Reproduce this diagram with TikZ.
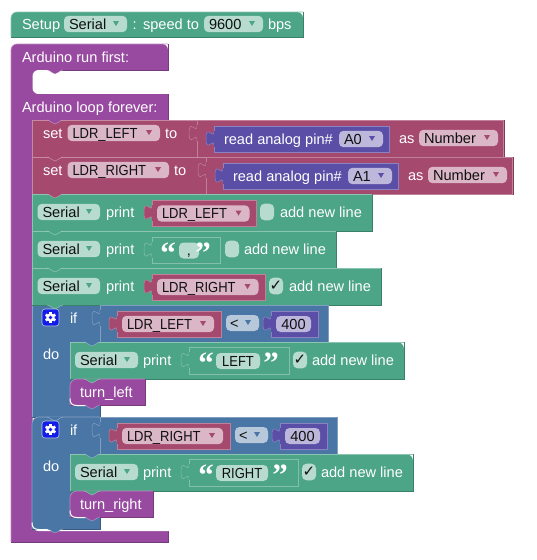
\documentclass[tikz,border=0pt]{standalone}
\usepackage{fontspec}
\setmainfont{Liberation Sans}
\newfontfamily\symf{DejaVu Sans}
\newfontfamily\narrowf[FakeStretch=0.89]{Liberation Sans}
\newfontfamily\quotf{Liberation Serif}
\definecolor{cg}{HTML}{4CA586}
\definecolor{cp}{HTML}{984AA0}
\definecolor{cr}{HTML}{A5496F}
\definecolor{ci}{HTML}{5A4EA6}
\definecolor{cb}{HTML}{4A76A5}
\definecolor{gc}{HTML}{B7DBCE}
\definecolor{rc}{HTML}{DBB6C6}
\definecolor{ic}{HTML}{BDB8DB}
\definecolor{bc}{HTML}{B7C8DB}
\definecolor{ink}{HTML}{101010}
\newcount\nid
\tikzset{
  lbl/.style={anchor=base west,inner sep=0pt,outer sep=0pt,font=\fontsize{14.6}{16}\selectfont},
  ctr/.style={anchor=base,inner sep=0pt,outer sep=0pt,font=\fontsize{14.6}{16}\selectfont,text=ink},
  quot/.style={anchor=center,inner sep=0pt,text=white,font=\quotf\fontsize{31}{31}\bfseries\selectfont}
}
% block: x1 y1 x2 y2 colour tl bl
\newcommand\blk[7]{%
  \fill[#5] (#1,#4) [rounded corners=#7pt]-- (#1,#2) [rounded corners=#6pt]-- (#3,#2) [sharp corners]-- (#3,#4) -- cycle;
  \fill[#5] (#1,{#2+8}) rectangle (#3,{#4-8});
  \draw[#5!65!white,line width=.6pt] (#1,#4) [rounded corners=#7pt]-- (#1,#2) [rounded corners=#6pt]-- (#3,#2);
  \draw[#5!78!black,line width=.7pt] (#3,#2) -- (#3,#4) -- (#1,#4);
}
% output block: x1 y1 x2 y2 colour, with tab at left
\newcommand\oblk[5]{%
  \filldraw[fill=#5,draw=#5!70!white,line width=.6pt] (#1,#2) rectangle (#3,#4);
  \filldraw[fill=#5,draw=#5!70!white,line width=.5pt] (#1,{#2+5}) .. controls (#1,{#2+15}) and ({#1-8},{#2-3}) .. ({#1-8},{#2+12.5}) .. controls ({#1-8},{#2+28}) and (#1,{#2+10}) .. (#1,{#2+20});
  \fill[#5] ({#1-.3},{#2+4.5}) rectangle ({#1+.3},{#2+20.5});
}
% next-connection tab
\newcommand\ntab[3]{%
  \fill[#3] (#1,{#2-.5}) -- (#1,#2) .. controls ({#1+4},{#2+.5}) and ({#1+5},{#2+4}) .. ({#1+8},{#2+4}) .. controls ({#1+11},{#2+4}) and ({#1+12},{#2+.5}) .. ({#1+16},#2) -- ({#1+16},{#2-.5}) -- cycle;
  \draw[white,opacity=.35,line width=.6pt] (#1,#2) .. controls ({#1+4},{#2+.5}) and ({#1+5},{#2+4}) .. ({#1+8},{#2+4}) .. controls ({#1+11},{#2+4}) and ({#1+12},{#2+.5}) .. ({#1+16},#2);
}
\newcommand\txt[3]{\global\advance\nid by 1 \node[lbl,text=white] (n\the\nid) at (#1,{#2+5.2}) {#3};}
% chip with dropdown: fill tri x1 x2 yc text
\newcommand\chip[6]{%
  \global\advance\nid by 1
  \fill[#1,rounded corners=4.5pt] (#3,{#5-8.2}) rectangle (#4,{#5+8.2});
  \node[lbl,text=ink] (n\the\nid) at ({#3+5},{#5+5.2}) {#6};
  \fill[#2] ({#4-14},{#5-3}) -- ({#4-8},{#5-3}) -- ({#4-11},{#5+2}) -- cycle;
}
% plain chip: fill x1 x2 yc text
\newcommand\pchip[5]{%
  \global\advance\nid by 1
  \fill[#1,rounded corners=4.5pt] (#2,{#4-8}) rectangle (#3,{#4+8});
  \node[ctr] (n\the\nid) at ({(#2+#3)/2},{#4+5.2}) {#5};
}
\newcommand\cbox[2]{\fill[gc,rounded corners=4.5pt] (#1,{#2-8.3}) rectangle ({#1+14},{#2+8.3});}
\newcommand\cmark[2]{\global\advance\nid by 1 \node[inner sep=0pt,text=ink,font=\symf\fontsize{15}{15}\selectfont] (n\the\nid) at ({#1+7},#2) {✓};}
\newcommand\oq[2]{\global\advance\nid by 1 \node[quot] (n\the\nid) at (#1,{#2+5}) {“};}
\newcommand\cq[2]{\global\advance\nid by 1 \node[quot] (n\the\nid) at (#1,{#2+5}) {”};}
\newcommand\gear[2]{%
  \filldraw[fill=blue!75!cb,draw=white!60!cb,line width=.6pt,rounded corners=3pt] ({#1-8.5},{#2-8.5}) rectangle ({#1+8.5},{#2+8.5});
  \fill[white] (#1,#2) circle (4.2);
  \foreach \a in {0,60,...,300}{\fill[white,rotate around={\a:(#1,#2)}] ({#1-1.3},{#2-5.6}) rectangle ({#1+1.3},{#2-2});}
  \fill[blue!75!cb] (#1,#2) circle (1.9);
}
% white highlight along an inner bottom-left corner: x y(bottom) length
\newcommand\hcorner[3]{\draw[white,line width=1pt] (#1,{#2-7}) .. controls (#1,{#2-2}) and ({#1+2},#2) .. ({#1+7},#2) -- ({#1+#3},#2);}
\begin{document}
\begin{tikzpicture}[x=1pt,y=-1pt]
\useasboundingbox (0,0) rectangle (536,560);
\fill[white] (0,0) rectangle (536,560);
% setup
\blk{11}{12}{303}{37}{cg}{6}{6}
\txt{22}{24}{Setup}
\chip{gc}{cg}{64}{127}{24}{Serial}
\txt{132.5}{24}{:}
\txt{143}{24}{speed to}
\chip{gc}{cg}{204}{263}{24}{9600}
\txt{268}{24}{bps}
% main purple
\blk{11}{44}{168}{542}{cp}{6}{6}
\fill[white,rounded corners=6pt] (32.5,70) rectangle (175,94);
\fill[white] (168.4,60) rectangle (175,110);
\fill[cp] (32.5,94) rectangle (168,99);
\fill[white,rounded corners=6pt] (32.5,120) rectangle (175,531);
\fill[white] (168.4,110) rectangle (175,530);
\draw[cp!78!black,line width=.7pt] (168,44) -- (168,70) -- (50,70);
\draw[cp!78!black,line width=.7pt] (168,94) -- (168,120);
\ntab{47}{70}{cp}
\txt{22}{57}{Arduino run first:}
\txt{22}{107}{Arduino loop forever:}
% if blocks (behind)
\blk{32}{305}{100}{417}{cb}{0}{0}
\blk{32}{417}{100}{529}{cb}{0}{7}
\hcorner{32}{529.5}{16}
% set 1
\blk{32}{120}{504}{157}{cr}{6}{0}
\ntab{47}{120}{cp}
\oblk{197}{120.5}{503.5}{157}{cr}
\txt{43}{133}{set}
\chip{rc}{cr}{67.5}{160}{133}{\narrowf LDR\_LEFT}
\txt{165}{133}{to}
\oblk{214}{126}{389}{152.5}{ci}
\txt{224}{139}{read analog pin\#}
\chip{ic}{ci}{339}{383}{139}{A0}
\txt{399}{138}{as}
\chip{rc}{cr}{419}{498}{138}{Number}
% set 2
\blk{32}{157}{513}{194}{cr}{0}{0}
\ntab{47}{157}{cr}
\oblk{206}{157.5}{512.5}{194}{cr}
\txt{43}{170}{set}
\chip{rc}{cr}{67.5}{169}{170}{\narrowf LDR\_RIGHT}
\txt{174}{170}{to}
\oblk{223}{163}{398}{189.5}{ci}
\txt{233}{176}{read analog pin\#}
\chip{ic}{ci}{348}{392}{176}{A1}
\txt{408}{175}{as}
\chip{rc}{cr}{428}{507}{175}{Number}
% print 1
\blk{32}{194}{372}{231}{cg}{0}{0}
\ntab{47}{194}{cr}
\chip{gc}{cg}{37.5}{100}{212}{Serial}
\txt{106}{212}{print}
\oblk{152}{200}{256}{226.5}{cr}
\chip{rc}{cr}{157}{249.5}{213.5}{\narrowf LDR\_LEFT}
\cbox{260}{212}
\txt{280}{212}{add new line}
% print 2
\blk{32}{231}{336}{268}{cg}{0}{0}
\ntab{47}{231}{cg}
\chip{gc}{cg}{37.5}{100}{249}{Serial}
\txt{106}{249}{print}
\oblk{152}{237}{220}{263.5}{cg}
\oq{168}{248}
\pchip{gc}{179}{199}{250.5}{,}
\cq{203}{248}
\cbox{225}{249}
\txt{244}{249}{add new line}
% print 3
\blk{32}{268}{381}{305}{cg}{0}{0}
\ntab{47}{268}{cg}
\chip{gc}{cg}{37.5}{100}{286}{Serial}
\txt{106}{286}{print}
\oblk{152}{274}{265}{300.5}{cr}
\chip{rc}{cr}{157}{258.5}{287}{\narrowf LDR\_RIGHT}
\cbox{269}{286}\cmark{269}{286}
\txt{289}{286}{add new line}
% if 1
\ntab{47}{305}{cg}
\oblk{100}{305.5}{328}{342}{cb}
\gear{50.5}{317.5}
\txt{70}{318}{if}
\txt{43}{354}{do}
\oblk{117}{311}{221}{337.5}{cr}
\chip{rc}{cr}{122}{214}{324}{\narrowf LDR\_LEFT}
\fill[bc,rounded corners=4.5pt] (226,315) rectangle (259,331);
\node[ctr] (lt1) at (234.5,328) {<};
\fill[cb] (245,320) -- (251,320) -- (248,325) -- cycle;
\oblk{271}{311}{318}{337.5}{ci}
\pchip{ic}{276}{311}{324}{400}
% inner 1
\fill[cb] (70,342) rectangle (100,405);
\blk{70}{342}{404}{379}{cg}{7}{0}
\ntab{84}{342}{cb}
\chip{gc}{cg}{75}{138}{360}{Serial}
\txt{143}{360}{print}
\oblk{189}{347.5}{289}{374}{cg}
\oq{206}{358}
\pchip{gc}{216}{260}{361}{\narrowf LEFT}
\cq{271}{358}
\cbox{293}{360}\cmark{293}{360}
\txt{312}{360}{add new line}
\blk{70}{379}{145}{405}{cp}{0}{7}
\hcorner{70}{405.5}{16}
\ntab{84}{379}{cg}
\ntab{84}{405}{cp}
\txt{80}{392}{turn\_left}
% if 2
\ntab{47}{417}{cb}
\oblk{100}{417.5}{337}{454}{cb}
\gear{50.5}{429.5}
\txt{70}{430}{if}
\txt{43}{466}{do}
\oblk{117}{423}{230}{449.5}{cr}
\chip{rc}{cr}{122}{223}{436}{\narrowf LDR\_RIGHT}
\fill[bc,rounded corners=4.5pt] (235,427) rectangle (268,443);
\node[ctr] (lt2) at (243.5,440) {<};
\fill[cb] (254,432) -- (260,432) -- (257,437) -- cycle;
\oblk{280}{423}{327}{449.5}{ci}
\pchip{ic}{285}{320}{436}{400}
% inner 2
\fill[cb] (70,454) rectangle (100,517);
\blk{70}{454}{413}{491}{cg}{7}{0}
\ntab{84}{454}{cb}
\chip{gc}{cg}{75}{138}{472}{Serial}
\txt{143}{472}{print}
\oblk{189}{459.5}{298}{486}{cg}
\oq{206}{470}
\pchip{gc}{216}{268}{473}{\narrowf RIGHT}
\cq{280}{470}
\cbox{302}{472}\cmark{302}{472}
\txt{321}{472}{add new line}
\blk{70}{491}{153}{517}{cp}{0}{7}
\hcorner{70}{517.5}{16}
\ntab{84}{491}{cg}
\ntab{84}{517}{cp}
\txt{80}{504}{turn\_right}
\ntab{47}{529}{cb}
\end{tikzpicture}
\end{document}
